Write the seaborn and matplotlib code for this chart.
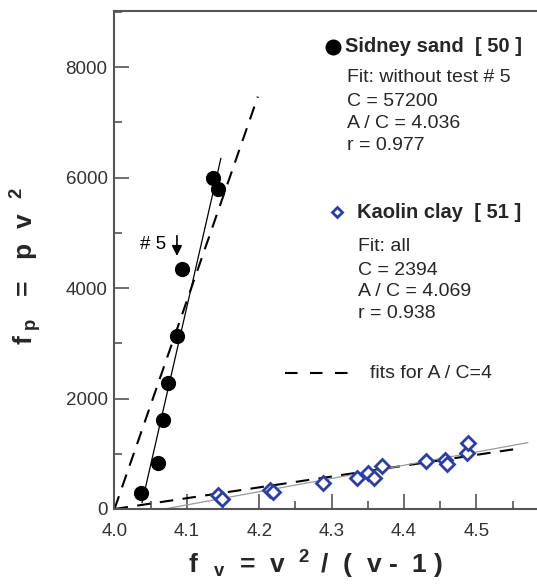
import matplotlib
matplotlib.use("Agg")
import matplotlib.pyplot as plt
import matplotlib.transforms as mtransforms
import numpy as np
import pandas as pd
import seaborn as sns

# ---------------- data ----------------
sand_fv = [4.036, 4.0605, 4.0666, 4.074, 4.086, 4.0928, 4.1356, 4.1434]
sand_fp = [284, 827, 1611, 2275, 3131, 4344, 5985, 5786]
sand_test5_index = 5

clay_fv = [4.143, 4.149, 4.2148, 4.219, 4.2876, 4.3354, 4.3506, 4.358,
           4.369, 4.430, 4.4565, 4.4588, 4.4865, 4.488]
clay_fp = [245, 190, 344, 313, 465, 567, 646, 567,
           778, 869, 887, 814, 1008, 1189]

sand_C, sand_AC = 57200, 4.036
clay_C, clay_AC = 2394, 4.069
sand_C4, clay_C4 = 37700, 1960     # fits for A/C = 4
sand_fit_x = [4.038, 4.147]
clay_fit_x = [4.069, 4.571]
sand_fit4_x = [4.0, 4.198]
clay_fit4_x = [4.0, 4.551]

x_ticks = [4.0, 4.1, 4.2, 4.3, 4.4, 4.5]
y_ticks = [0, 2000, 4000, 6000, 8000]

# ---------------- style ----------------
sns.set_theme(style="white")
plt.rcParams['font.family'] = ['Liberation Sans', 'DejaVu Sans']
plt.rcParams['mathtext.fontset'] = 'custom'
plt.rcParams['mathtext.rm'] = 'Liberation Sans:bold'
plt.rcParams['mathtext.it'] = 'Liberation Sans:bold'
plt.rcParams['mathtext.bf'] = 'Liberation Sans:bold'

blue = '#2b3ea6'
spine_c = '#555555'

fig = plt.figure(figsize=(5.37, 5.86), dpi=100)
ax = fig.add_axes([0.2132, 0.1314, 1 - 0.2132, 0.9812 - 0.1314])

sand = pd.DataFrame({'fv': sand_fv, 'fp': sand_fp})
clay = pd.DataFrame({'fv': clay_fv, 'fp': clay_fp})

# fit lines
def fitdf(xs, C, AC):
    xs = np.asarray(xs, dtype=float)
    return pd.DataFrame({'x': xs, 'y': C * (xs - AC)})

sns.lineplot(data=fitdf(sand_fit4_x, sand_C4, 4.0), x='x', y='y', ax=ax,
             color='black', lw=1.5, linestyle=(0, (6.5, 4.5)))
sns.lineplot(data=fitdf(clay_fit4_x, clay_C4, 4.0), x='x', y='y', ax=ax,
             color='black', lw=1.5, linestyle=(0, (6.5, 4.5)))
sns.lineplot(data=fitdf(sand_fit_x, sand_C, sand_AC), x='x', y='y', ax=ax,
             color='black', lw=0.9)
sns.lineplot(data=fitdf(clay_fit_x, clay_C, clay_AC), x='x', y='y', ax=ax,
             color='#9a9a9a', lw=0.9)

# points
sns.scatterplot(data=sand, x='fv', y='fp', ax=ax, marker='o', s=120,
                color='black', edgecolor='black', linewidth=0, zorder=5)
ax.plot(clay['fv'], clay['fp'], ls='none', marker='D', ms=7.5,
        mfc='white', mec=blue, mew=2.0, zorder=5)

# #5 annotation
x5, y5 = sand_fv[sand_test5_index], sand_fp[sand_test5_index]
tip = mtransforms.offset_copy(ax.transData, fig=fig, x=-3.4, y=9.4, units='points')
tail = mtransforms.offset_copy(ax.transData, fig=fig, x=-3.4, y=24.0, units='points')
ax.annotate('', xy=(x5, y5), xycoords=tip, xytext=(x5, y5), textcoords=tail,
            arrowprops=dict(arrowstyle='-|>,head_width=0.25,head_length=0.5',
                            color='black', lw=1.2, shrinkA=0, shrinkB=0))
ax.annotate('# 5', xy=(x5, y5), xytext=(-11.3, 17.3), textcoords='offset points',
            ha='right', va='center', fontsize=13.5, color='black')

# axes
ax.set_xlim(4.0, 4.5836)
ax.set_ylim(0, 9014)
ax.set_xticks(x_ticks)
ax.set_xticklabels([f'{v:.1f}' for v in x_ticks])
ax.set_yticks(y_ticks)
ax.set_yticklabels([str(v) for v in y_ticks])
ax.xaxis.set_minor_locator(matplotlib.ticker.MultipleLocator(0.05))
ax.yaxis.set_minor_locator(matplotlib.ticker.MultipleLocator(1000))
ax.tick_params(which='both', direction='in', color=spine_c, width=1.2,
               bottom=True, left=True, top=False, right=False)
ax.tick_params(which='major', length=11)
ax.tick_params(which='minor', length=5.5)
ax.tick_params(axis='x', which='major', labelsize=13.5, pad=10, labelcolor='#333333')
ax.tick_params(axis='y', which='major', labelsize=13.5, pad=5, labelcolor='#333333')
for s in ['left', 'top', 'bottom']:
    ax.spines[s].set_color(spine_c)
    ax.spines[s].set_linewidth(1.5)
ax.spines['right'].set_visible(False)

ax.set_xlabel(r'f$_{\ \ \ \mathrm{v}}$  =  v  $^{2}\,$ /  (  v -  1 )', fontsize=19,
              fontweight='bold')
ax.set_ylabel(r'f$_{\ \mathrm{p}}$   =   p  v  $^{2}$', fontsize=19,
              fontweight='bold')
ax.xaxis.set_label_coords((316 - 114.5) / 422.5, -0.080)
ax.yaxis.set_label_coords(-0.168, (509 - 266) / 498)

# annotations / legend-like texts
T = ax.transAxes
fs = 14
ax.plot([0.517], [0.928], marker='o', ms=10.5, color='black', transform=T, clip_on=False)
ax.text(0.5456, 0.928, 'Sidney sand  [ 50 ]', transform=T, fontsize=14.5,
        fontweight='bold', va='center', ha='left')
for y, s in zip([0.8655, 0.8193, 0.7751, 0.7309],
                ['Fit: without test # 5', 'C = 57200', 'A / C = 4.036', 'r = 0.977']):
    ax.text(0.5503, y, s, transform=T, fontsize=fs, va='center', ha='left')

ax.plot([0.5266], [0.5964], marker='D', ms=5.5, mfc='white', mec=blue, mew=2.0,
        transform=T, clip_on=False)
ax.text(0.5740, 0.5964, 'Kaolin clay  [ 51 ]', transform=T, fontsize=14.5,
        fontweight='bold', va='center', ha='left')
for y, s in zip([0.5271, 0.4799, 0.4367, 0.3916],
                ['Fit: all', 'C = 2394', 'A / C = 4.069', 'r = 0.938']):
    ax.text(0.5763, y, s, transform=T, fontsize=fs, va='center', ha='left')

ax.plot([0.404, 0.561], [0.2731, 0.2731], color='black', lw=1.5,
        linestyle=(0, (6, 6)), transform=T)
ax.text(0.6047, 0.2731, 'fits for A / C=4', transform=T, fontsize=fs,
        va='center', ha='left')

fig.savefig('out.png', dpi=100)
